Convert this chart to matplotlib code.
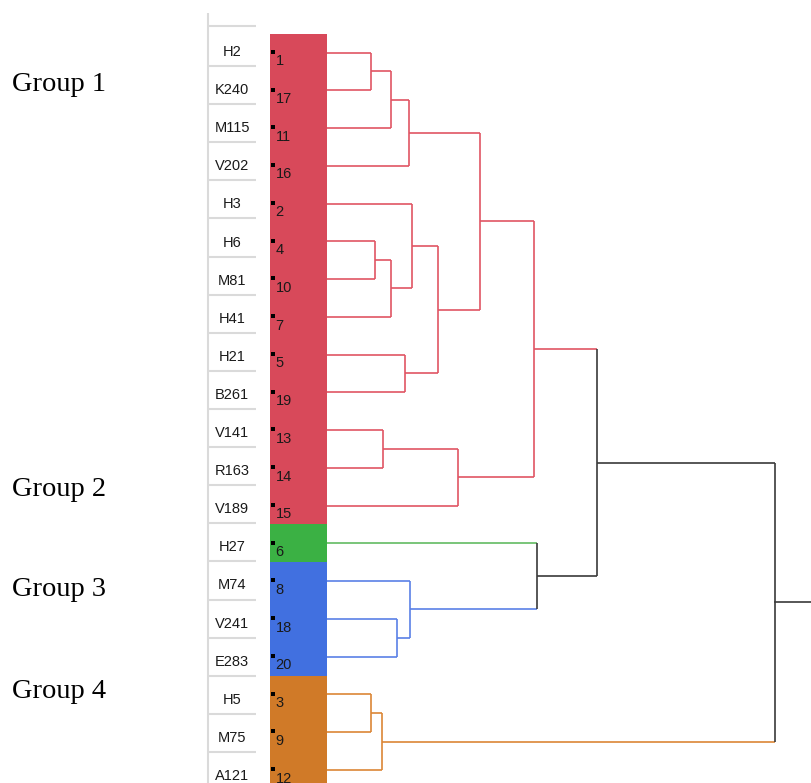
import matplotlib
matplotlib.use("Agg")
import matplotlib.pyplot as plt

# leaves in plot order (top to bottom)
leaf_names = ["H2", "K240", "M115", "V202", "H3", "H6", "M81", "H41", "H21", "B261",
              "V141", "R163", "V189", "H27", "M74", "V241", "E283", "H5", "M75", "A121"]
leaf_ids = [1, 17, 11, 16, 2, 4, 10, 7, 5, 19, 13, 14, 15, 6, 8, 18, 20, 3, 9, 12]
leaf_group = [0] * 13 + [1] + [2] * 3 + [3] * 3

group_names = ["Group 1", "Group 2", "Group 3", "Group 4"]
group_label_rows = [0.78, 11.5, 14.15, 16.85]
bar_colors = ["#d8495a", "#3bb144", "#4170e0", "#d07a28"]
line_colors = ["#e05563", "#62bb62", "#5a80e6", "#dc8636"]
link_black = "#3a3a3a"

# linkage style merges: sample ids 1..20 are leaves, 21.. are new clusters
merge_a = [1, 21, 22, 4, 24, 2, 5, 26, 23, 13, 30, 29, 18, 8, 6, 32, 3, 37, 36]
merge_b = [17, 11, 16, 10, 7, 25, 19, 27, 28, 14, 15, 31, 20, 33, 34, 35, 9, 12, 38]
merge_h = [0.98, 1.42, 1.82, 1.07, 1.42, 1.90, 1.74, 2.47, 3.42, 1.25, 2.92, 4.63,
           1.56, 1.85, 4.69, 6.03, 0.98, 1.23, 10.0]

W, H = 811, 783
fig = plt.figure(figsize=(W / 100, H / 100), dpi=100)

# y scales (pixel = offset + step * row)
den_off, den_step = 52.5, 37.76
lab_off, lab_step = 47.0, 38.11
den_ylim = ((H - den_off) / den_step, -den_off / den_step)
lab_ylim = ((H - lab_off) / lab_step, -lab_off / lab_step)

# label column
ax_lab = fig.add_axes([200 / W, 0, 60 / W, 1])
ax_lab.set_xlim(200, 260)
ax_lab.set_ylim(*lab_ylim)
ax_lab.axis("off")
n = len(leaf_names)
grid_col = "#dadada"
ax_lab.plot([208, 208], [-0.9, n + 1], color=grid_col, lw=1.5, solid_capstyle="butt")
ax_lab.plot([208, 256], [-0.55, -0.55], color=grid_col, lw=1.5, solid_capstyle="butt")
for i, name in enumerate(leaf_names):
    ax_lab.plot([208, 256], [i + 0.5, i + 0.5], color=grid_col, lw=1.5,
                solid_capstyle="butt")
    ax_lab.text(232, i + 0.13, name, ha="center", va="center", fontsize=10.5,
                family="Liberation Sans", color="#1a1a1a")

# colour bar with sample numbers
ax_bar = fig.add_axes([270 / W, 0, 57 / W, 1])
ax_bar.set_xlim(0, 1)
ax_bar.set_ylim(*den_ylim)
ax_bar.axis("off")
for i, (sid, g) in enumerate(zip(leaf_ids, leaf_group)):
    ax_bar.barh(i, 1, height=1.0, left=0, color=bar_colors[g], linewidth=0)
    ax_bar.plot([0.06], [i - 0.02], marker="s", ms=2.8, color="black", mew=0)
    ax_bar.text(0.1, i + 0.23, str(sid), ha="left", va="center", fontsize=10.5,
                family="Liberation Sans", color="#1a1a1a")

# dendrogram
ax = fig.add_axes([327 / W, 0, 484 / W, 1])
ax.set_xlim(0, 10.8)
ax.set_ylim(*den_ylim)
ax.axis("off")

pos = {}
height = {}
color = {}
for i, (sid, g) in enumerate(zip(leaf_ids, leaf_group)):
    pos[sid] = float(i)
    height[sid] = 0.0
    color[sid] = line_colors[g]

nleaf = len(leaf_ids)
for k, (a, b, h) in enumerate(zip(merge_a, merge_b, merge_h)):
    node = nleaf + 1 + k
    c = color[a] if color[a] == color[b] else link_black
    for child in (a, b):
        ax.plot([height[child], h], [pos[child], pos[child]], color=color[child],
                lw=1.2, solid_capstyle="butt")
    ax.plot([h, h], [pos[a], pos[b]], color=c, lw=1.2, solid_capstyle="butt")
    pos[node] = (pos[a] + pos[b]) / 2
    height[node] = h
    color[node] = c

root = nleaf + len(merge_h)
ax.plot([height[root], 10.8], [pos[root], pos[root]], color=link_black, lw=1.2)

# group captions
for name, r in zip(group_names, group_label_rows):
    ypix = den_off + den_step * r + 3
    fig.text(12 / W, 1 - ypix / H, name, ha="left", va="center", fontsize=20.5,
             family="Liberation Serif", color="black")

fig.savefig("out.png", dpi=100)
